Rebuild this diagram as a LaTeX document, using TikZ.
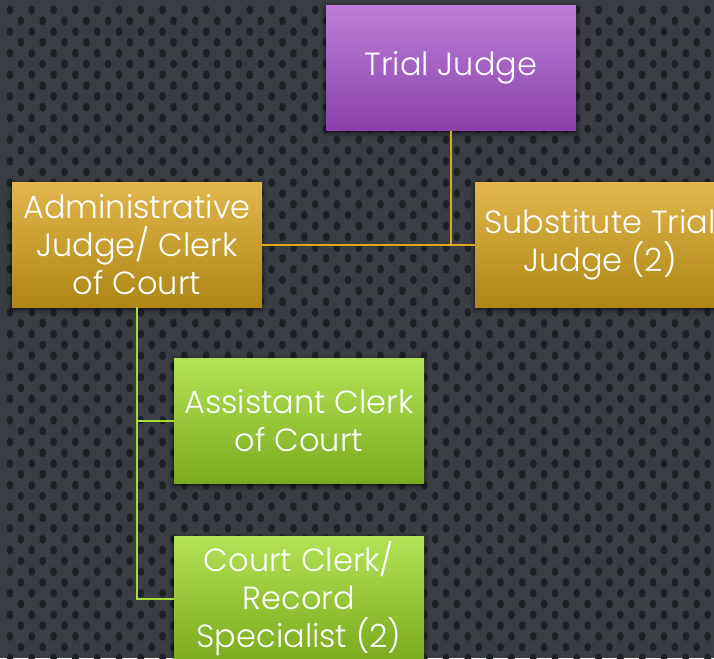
\documentclass[tikz,border=0pt]{standalone}
\usepackage{fontspec}
\setmainfont{Poppins Light}
\usetikzlibrary{shadows.blur}

\definecolor{bgbase}{HTML}{3A3E44}
\definecolor{bgdot}{HTML}{1D2126}
\definecolor{purpletop}{HTML}{BC7DD8}
\definecolor{purplebot}{HTML}{8A42AB}
\definecolor{goldtop}{HTML}{E2B64D}
\definecolor{goldbot}{HTML}{AD8614}
\definecolor{greentop}{HTML}{B2E255}
\definecolor{greenbot}{HTML}{7CAA1E}
\definecolor{goldline}{HTML}{DCA820}
\definecolor{greenline}{HTML}{A6DC32}

\tikzset{
  orgbox/.style={minimum width=250, minimum height=125, inner sep=0,
    align=center, text=white, font=\fontsize{32}{38}\selectfont,
    blur shadow={shadow xshift=0pt, shadow yshift=-2pt,
      shadow blur radius=5pt, shadow opacity=75}},
  purplebox/.style={orgbox, top color=purpletop, bottom color=purplebot},
  goldbox/.style={orgbox, top color=goldtop, bottom color=goldbot},
  greenbox/.style={orgbox, top color=greentop, bottom color=greenbot},
  goldlink/.style={draw=goldline, line width=2pt},
  greenlink/.style={draw=greenline, line width=2pt},
}

\begin{document}
\begin{tikzpicture}[x=1pt, y=-1pt]
  \useasboundingbox (0,0) rectangle (714,658);
  \clip (0,0) rectangle (714,658);

  % perforated dark backdrop
  \fill[bgbase] (0,0) rectangle (714,658);
  \foreach \r in {0,...,61} {
    \pgfmathsetmacro\rowoff{mod(\r,2)*10.9}
    \foreach \c in {0,...,33} {
      \fill[bgdot] (\c*21.8+10+\rowoff, \r*10.8+10)
        ellipse [x radius=3.4, y radius=4.4];
    }
  }

  % organisation boxes
  \node[purplebox] (tj)   at (451,68)    {Trial Judge};
  \node[goldbox]   (adm)  at (137,244.5) {Administrative\\Judge/ Clerk\\of Court};
  \node[goldbox]   (sub)  at (600,244.5) {Substitute Trial\\Judge (2)};
  \node[greenbox]  (asst) at (299,421)   {Assistant Clerk\\of Court};
  \node[greenbox]  (cc)   at (299,598.5) {Court Clerk/\\Record\\Specialist (2)};

  % connectors
  \draw[goldlink] (tj.south) -- (tj.south |- adm.east);
  \draw[goldlink] (adm.east) -- (sub.west);
  \draw[greenlink] (adm.south) |- (cc.west);
  \draw[greenlink] (adm.south |- asst.west) -- (asst.west);
\end{tikzpicture}
\end{document}
